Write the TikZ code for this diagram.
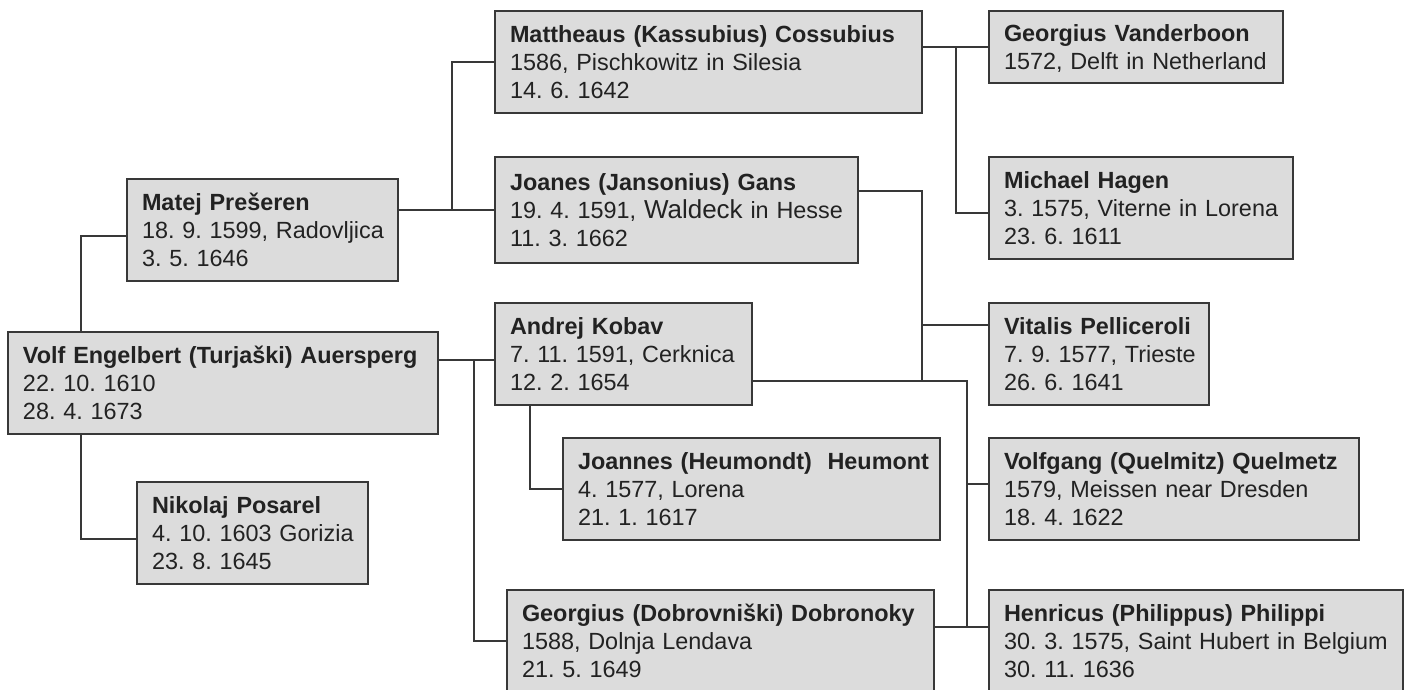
\documentclass[tikz,border=0pt]{standalone}
\usepackage{fontspec}
\setmainfont{Liberation Sans}
\usetikzlibrary{calc}
\definecolor{boxfill}{HTML}{DCDCDC}
\definecolor{boxline}{HTML}{383838}
\definecolor{ink}{HTML}{222222}
\frenchspacing
\newcommand{\who}[3]{\textbf{\mbox{#1}}\\\mbox{#2}\\\mbox{#3}}

\begin{document}
\begin{tikzpicture}[x=1pt,y=-1pt,line join=miter,
  person/.style={draw=boxline,fill=boxfill,line width=1.8pt,anchor=north west,outer sep=0pt,
    inner xsep=15pt,inner ysep=14.5pt,text height=16.8pt,text depth=56pt,align=left,text=ink,
    font=\fontsize{23.4}{28}\selectfont},
  link/.style={draw=boxline,line width=1.6pt}]
  \useasboundingbox (0,0) rectangle (1410,690);
  % generation 0 and 1
  \node[person,text width=400pt] (volf) at (8,332) {\who{Volf Engelbert (Turjaški) Auersperg}{22. 10. 1610}{28. 4. 1673}};
  \node[person,text width=241pt] (matej) at (127,179) {\who{Matej Prešeren}{18. 9. 1599, Radovljica}{3. 5. 1646}};
  \node[person,text width=201pt] (nikolaj) at (137,482) {\who{Nikolaj Posarel}{4. 10. 1603 Gorizia}{23. 8. 1645}};
  % generation 2
  \node[person,text width=397pt] (mattheaus) at (495,11) {\who{Mattheaus (Kassubius) Cossubius}{1586, Pischkowitz in Silesia}{14. 6. 1642}};
  \node[person,text width=333pt,minimum height=106pt] (joanes) at (495,157) {\who{Joanes (Jansonius) Gans}{19. 4. 1591, {\fontsize{26}{28}\selectfont Waldeck} in Hesse}{11. 3. 1662}};
  \node[person,text width=227pt] (andrej) at (495,303) {\who{Andrej Kobav}{7. 11. 1591, Cerknica}{12. 2. 1654}};
  \node[person,text width=347pt] (heumont) at (563,438) {\who{Joannes (Heumondt)\ \ Heumont}{4. 1577, Lorena}{21. 1. 1617}};
  \node[person,text width=397pt] (dobronoky) at (507,590) {\who{Georgius (Dobrovniški) Dobronoky}{1588, Dolnja Lendava}{21. 5. 1649}};
  % generation 3
  \node[person,text width=264pt,text depth=28pt,inner ysep=13.6pt] (vanderboon) at (989,11) {\textbf{\mbox{Georgius Vanderboon}}\\\mbox{1572, Delft in Netherland}};
  \node[person,text width=274pt] (hagen) at (989,157) {\who{Michael Hagen}{3. 1575, Viterne in Lorena}{23. 6. 1611}};
  \node[person,text width=190pt] (pelliceroli) at (989,303) {\who{Vitalis Pelliceroli}{7. 9. 1577, Trieste}{26. 6. 1641}};
  \node[person,text width=340pt] (quelmetz) at (989,438) {\who{Volfgang (Quelmitz) Quelmetz}{1579, Meissen near Dresden}{18. 4. 1622}};
  \node[person,text width=384pt] (philippi) at (989,590) {\who{Henricus (Philippus) Philippi}{30. 3. 1575, Saint Hubert in Belgium}{30. 11. 1636}};
  % joints on the lines
  \coordinate (vj) at ($(andrej.west)+(0,6)$);
  \coordinate (jg) at ($(joanes.north east)+(0,34)$);
  \coordinate (ak) at ($(andrej.north east)+(0,78)$);
  \coordinate (hp) at ($(philippi.north west)+(0,37)$);
  \coordinate (kq) at ($(hp)+(-22,0)$);
  \coordinate (jv) at ($(jg)+(64,0)$);
  % connectors
  \draw[link] ($(volf.north west)+(73,0)$) |- ($(matej.west)+(0,6)$);
  \draw[link] ($(volf.south west)+(73,0)$) |- ($(nikolaj.west)+(0,6)$);
  \draw[link] (volf.east |- vj) -- (vj);
  \draw[link] ($(volf.east |- vj)+(36,0)$) |- (dobronoky.west);
  \draw[link] (matej.east |- joanes.west) -- (joanes.west);
  \draw[link] ($(matej.east |- joanes.west)+(54,0)$) |- (mattheaus.west);
  \draw[link] (mattheaus.east |- vanderboon.west) -- (vanderboon.west);
  \draw[link] ($(mattheaus.east |- vanderboon.west)+(34,0)$) |- ($(hagen.west)+(0,5)$);
  \draw[link] (jg) -| (jv |- ak);
  \draw[link] ($(pelliceroli.north west)+(0,22)$) -- (jv |- {$(pelliceroli.north west)+(0,22)$});
  \draw[link] (ak) -| (kq);
  \draw[link] (dobronoky.east |- hp) -- (hp);
  \draw[link] ($(quelmetz.west)+(0,-5)$) -- (kq |- {$(quelmetz.west)+(0,-5)$});
  \draw[link] ($(andrej.south west)+(35,0)$) |- (heumont.west);
\end{tikzpicture}
\end{document}
